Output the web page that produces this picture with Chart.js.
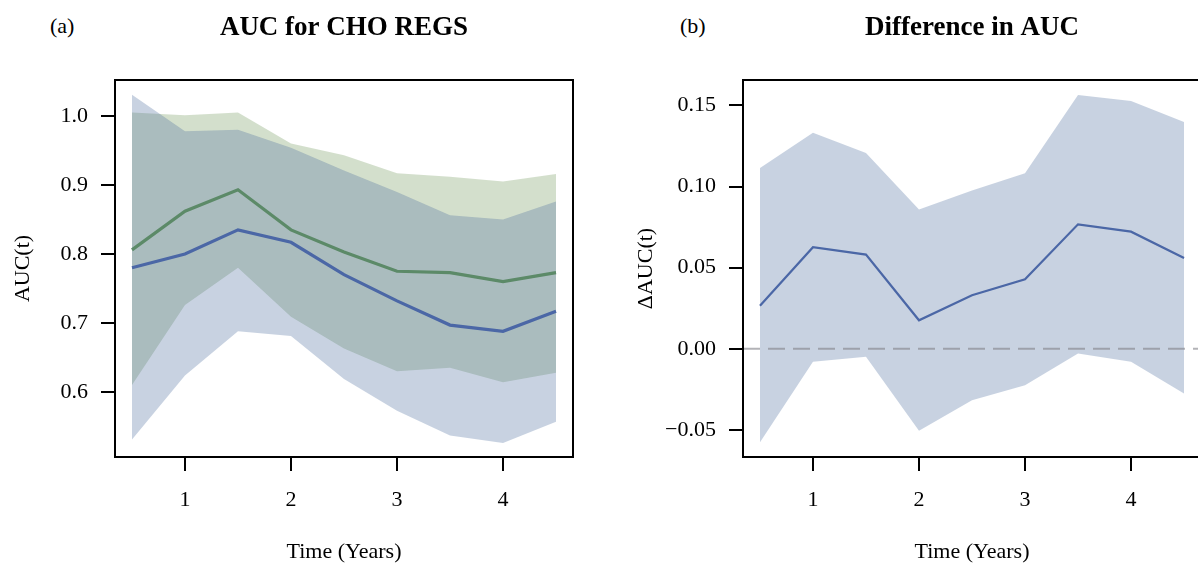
<!DOCTYPE html>
<html>
<head>
<meta charset="utf-8">
<script src="https://cdn.jsdelivr.net/npm/chart.js@4/dist/chart.umd.min.js"></script>
<style>
    html, body { margin: 0; padding: 0; background: #fff; overflow: hidden; }
    body { width: 1198px; height: 565px; position: relative; }
    canvas { position: absolute; top: 0; }
    #chartA { left: 0; }
    #chartB { left: 599px; }
    .panel-tag { position: absolute; top: 15px; font: 22px/22px "Liberation Serif", serif; color: #000; }
</style>
</head>
<body>
<div class="panel-tag" style="left:50px">(a)</div>
<div class="panel-tag" style="left:680px">(b)</div>
<canvas id="chartA" width="599" height="565"></canvas>
<canvas id="chartB" width="620" height="565"></canvas>

<script>
// ---- data ----
const times = [0.5, 1, 1.5, 2, 2.5, 3, 3.5, 4, 4.5];
const xTicks = [1, 2, 3, 4];

// panel (a): AUC for CHO REGS
const aucBlue      = [0.780, 0.800, 0.835, 0.817, 0.770, 0.732, 0.697, 0.688, 0.717];
const aucBlueUpper = [1.031, 0.978, 0.980, 0.954, 0.921, 0.890, 0.856, 0.850, 0.876];
const aucBlueLower = [0.531, 0.624, 0.688, 0.681, 0.619, 0.573, 0.537, 0.526, 0.557];
const aucGreen      = [0.806, 0.862, 0.893, 0.835, 0.803, 0.775, 0.773, 0.760, 0.773];
const aucGreenUpper = [1.005, 1.001, 1.005, 0.960, 0.943, 0.917, 0.912, 0.905, 0.916];
const aucGreenLower = [0.610, 0.726, 0.780, 0.709, 0.663, 0.630, 0.635, 0.614, 0.628];
const aucTicks = [0.6, 0.7, 0.8, 0.9, 1.0];

// panel (b): Difference in AUC
const diffAuc   = [0.0265, 0.0626, 0.0581, 0.0176, 0.0330, 0.0429, 0.0767, 0.0722, 0.0560];
const diffUpper = [0.1114, 0.1331, 0.1206, 0.0859, 0.0976, 0.1081, 0.1563, 0.1526, 0.1397];
const diffLower = [-0.0576, -0.0080, -0.0049, -0.0505, -0.0316, -0.0224, -0.0029, -0.0080, -0.0275];
const diffTicks = [-0.05, 0, 0.05, 0.10, 0.15];

const X_MIN = 0.34, X_MAX = 4.66;

// colours
const BLUE = "#4b67a6";
const BLUE_BAND = "rgba(72, 105, 155, 0.30)";
const GREEN = "#5c8a68";
const GREEN_BAND = "rgba(108, 148, 85, 0.30)";

Chart.defaults.font.family = "'Liberation Serif', serif";
Chart.defaults.color = "#000";

function pts(ys) {
    return times.map((t, i) => ({ x: t, y: ys[i] }));
}

// box round the plot region (R style)
const framePlugin = {
    id: "frame",
    afterDatasetsDraw(chart) {
        const a = chart.chartArea;
        const ctx = chart.ctx;
        ctx.save();
        ctx.strokeStyle = "#000";
        ctx.lineWidth = 2;
        ctx.strokeRect(a.left, a.top, a.right - a.left, a.bottom - a.top);
        ctx.restore();
    }
};

function bandSet(data, color, order, fill) {
    return {
        data: pts(data),
        borderWidth: 1,
        borderColor: "transparent",
        pointRadius: 0,
        backgroundColor: color,
        fill: fill,
        order: order
    };
}

function makeOptions(opts) {
    return {
        responsive: false,
        animation: false,
        layout: { padding: { left: 0, right: opts.padRight, top: 0, bottom: 0 } },
        plugins: {
            legend: { display: false },
            tooltip: { enabled: false },
            title: {
                display: true,
                text: opts.title,
                fullSize: false,
                font: { size: 27, weight: "bold" },
                padding: { top: 12, bottom: 35.6 }
            }
        },
        scales: {
            x: {
                type: "linear",
                min: X_MIN,
                max: X_MAX,
                afterBuildTicks: s => { s.ticks = xTicks.map(v => ({ value: v })); },
                afterFit: s => { s.height = 108; },
                ticks: { font: { size: 22 }, padding: 16, callback: v => String(v) },
                grid: { drawOnChartArea: false, drawTicks: true, tickLength: 14, color: "#000", lineWidth: 2 },
                border: { display: false },
                title: { display: true, text: "Time (Years)", font: { size: 22 }, padding: { top: 0, bottom: 0 } }
            },
            y: {
                type: "linear",
                min: opts.yMin,
                max: opts.yMax,
                afterBuildTicks: s => { s.ticks = opts.yTicks.map(v => ({ value: v })); },
                afterFit: s => { s.width = opts.yWidth; },
                ticks: { font: { size: 22 }, padding: 13, callback: opts.fmt },
                grid: { drawOnChartArea: false, drawTicks: true, tickLength: 14, color: "#000", lineWidth: 2 },
                border: { display: false },
                title: { display: true, text: opts.yTitle, font: { size: 22 }, padding: { top: opts.yTitlePad, bottom: 0 } }
            }
        }
    };
}

// ---- panel (a) ----
new Chart(document.getElementById("chartA"), {
    type: "line",
    data: {
        datasets: [
            { data: pts(aucGreen), borderColor: GREEN, borderWidth: 3.2, pointRadius: 0, fill: false, order: 0 },
            { data: pts(aucBlue), borderColor: BLUE, borderWidth: 3.2, pointRadius: 0, fill: false, order: 0 },
            bandSet(aucBlueUpper, BLUE_BAND, 1, "+1"),
            bandSet(aucBlueLower, BLUE_BAND, 1, false),
            bandSet(aucGreenUpper, GREEN_BAND, 2, "+1"),
            bandSet(aucGreenLower, GREEN_BAND, 2, false)
        ]
    },
    options: makeOptions({
        title: "AUC for CHO REGS",
        padRight: 26,
        yMin: 0.5058, yMax: 1.0522,
        yTicks: aucTicks,
        yWidth: 115,
        yTitle: "AUC(t)",
        yTitlePad: 10,
        fmt: v => v.toFixed(1)
    }),
    plugins: [framePlugin]
});

// ---- panel (b) ----
new Chart(document.getElementById("chartB"), {
    type: "line",
    data: {
        datasets: [
            { data: pts(diffAuc), borderColor: BLUE, borderWidth: 2.2, pointRadius: 0, fill: false, order: 1 },
            {
                data: [{ x: X_MIN, y: 0 }, { x: X_MAX, y: 0 }],
                borderColor: "rgba(128, 128, 135, 0.6)", borderWidth: 2, borderDash: [17, 8],
                pointRadius: 0, fill: false, order: 0
            },
            bandSet(diffUpper, BLUE_BAND, 2, "+1"),
            bandSet(diffLower, BLUE_BAND, 2, false)
        ]
    },
    options: makeOptions({
        title: "Difference in AUC",
        padRight: 18,
        yMin: -0.0666, yMax: 0.1656,
        yTicks: diffTicks,
        yWidth: 144,
        yTitle: "ΔAUC(t)",
        yTitlePad: 34,
        fmt: v => v.toFixed(2).replace("-", "\u2212")
    }),
    plugins: [framePlugin]
});
</script>
</body>
</html>
